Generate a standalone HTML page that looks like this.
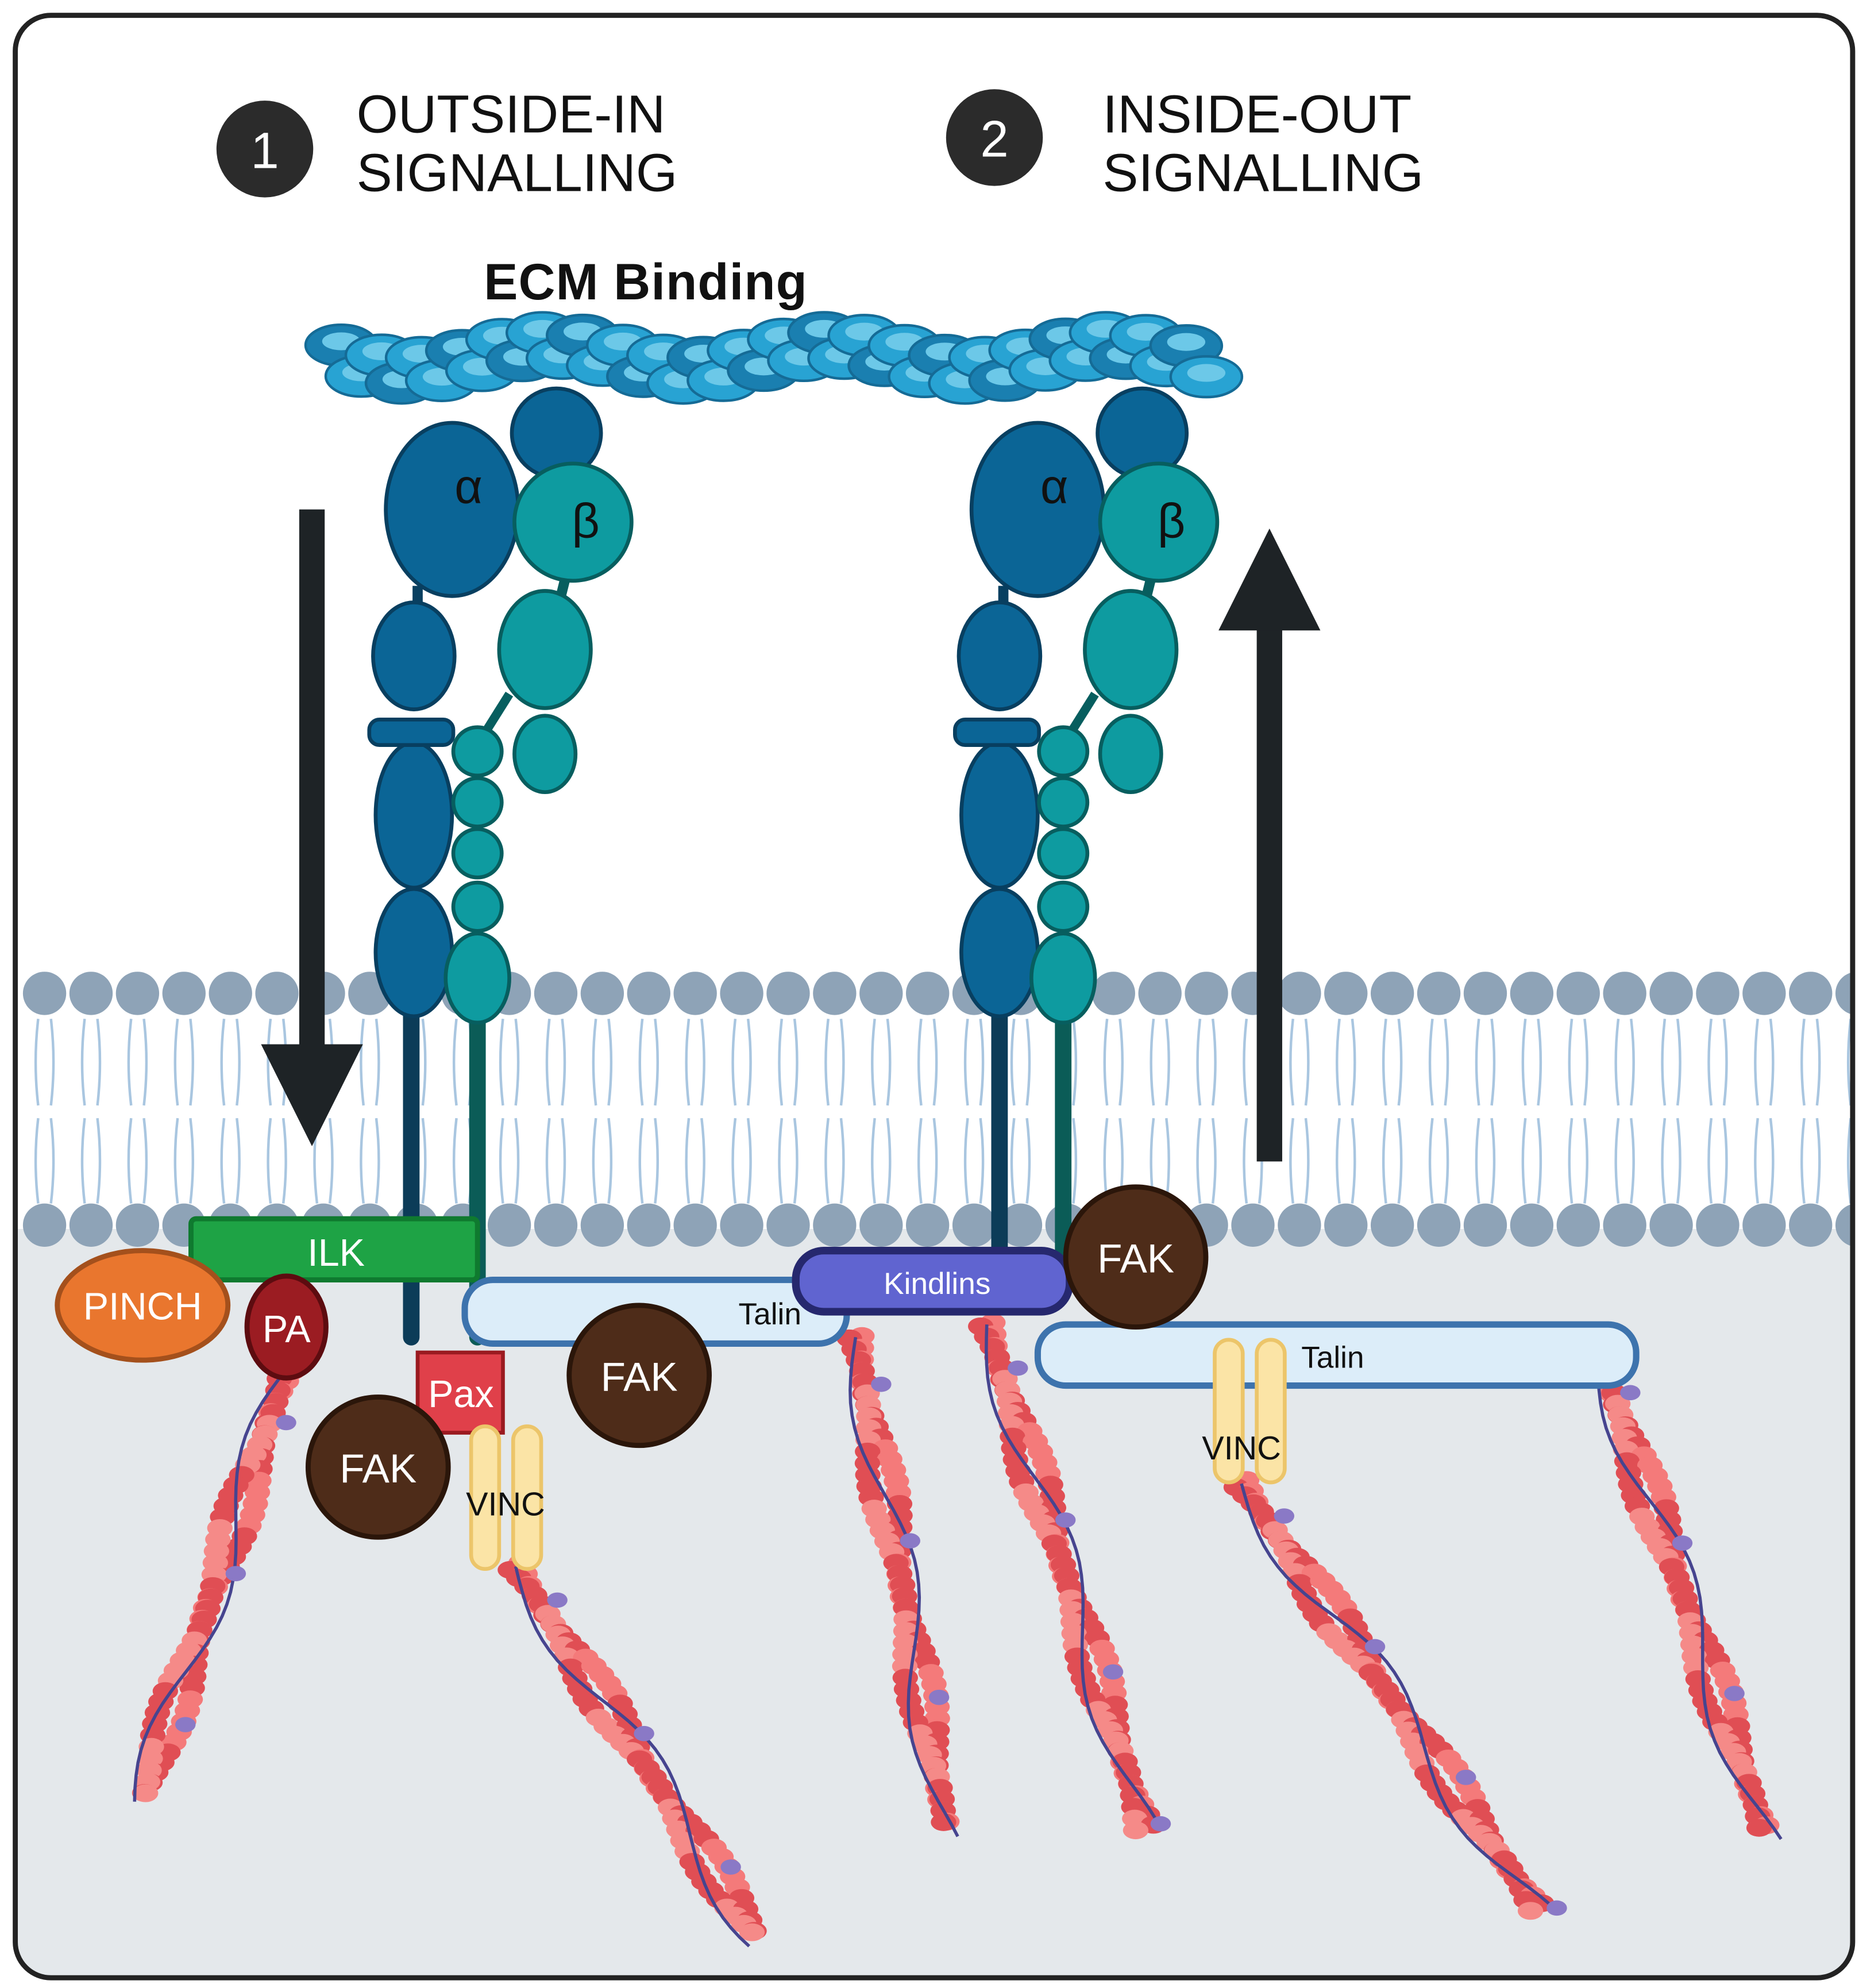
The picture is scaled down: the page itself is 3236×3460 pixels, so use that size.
<!DOCTYPE html>
<html><head><meta charset="utf-8"><style>
html,body{margin:0;padding:0;background:#fff}
svg{display:block}
text{font-family:"Liberation Sans",sans-serif}
</style></head><body>
<svg id="s" width="3236" height="3460" viewBox="0 0 1460 1561" xmlns="http://www.w3.org/2000/svg">
<defs><clipPath id="c"><rect x="12" y="12" width="1443" height="1541" rx="28"/></clipPath></defs>
<g clip-path="url(#c)">
<rect x="0" y="0" width="1460" height="1561" fill="#fff"/>
<rect x="0" y="965" width="1460" height="600" fill="#e4e8eb"/>
<g id="mem"></g>
<g id="act"></g>
</g>
<rect x="12" y="12" width="1443" height="1541" rx="28" fill="none" stroke="#222" stroke-width="4"/>
<circle cx="208" cy="117" r="38" fill="#2b2b2b"/><text x="208" y="132" font-size="40" fill="#fff" text-anchor="middle">1</text>
<text x="280" y="104" font-size="42" fill="#111">OUTSIDE-IN</text><text x="280" y="150" font-size="42" fill="#111">SIGNALLING</text>
<circle cx="781" cy="108" r="38" fill="#2b2b2b"/><text x="781" y="123" font-size="40" fill="#fff" text-anchor="middle">2</text>
<text x="866" y="104" font-size="42" fill="#111">INSIDE-OUT</text><text x="866" y="150" font-size="42" fill="#111">SIGNALLING</text>
<text x="380" y="235" font-size="40" font-weight="bold" fill="#111" letter-spacing="0.5">ECM Binding</text>
<g id="ecm"></g>
<g id="int"></g>
<rect x="235" y="400" width="20" height="430" fill="#1e2326"/><polygon points="205,820 285,820 245,900" fill="#1e2326"/>
<rect x="987" y="490" width="20" height="422" fill="#1e2326"/><polygon points="957,495 1037,495 997,415" fill="#1e2326"/>
<g id="cyto">
<rect x="365" y="1005" width="300" height="50" rx="22" fill="#dcedf9" stroke="#3d73ad" stroke-width="5"/>
<text x="580" y="1040" font-size="24" fill="#111">Talin</text>
<rect x="815" y="1040" width="470" height="48" rx="22" fill="#dcedf9" stroke="#3d73ad" stroke-width="5"/>
<text x="1022" y="1074" font-size="24" fill="#111">Talin</text>
<rect x="150" y="957" width="225" height="48" rx="4" fill="#1ea345" stroke="#0f7a2f" stroke-width="4"/>
<text x="264" y="994" font-size="30" fill="#fff" text-anchor="middle">ILK</text>
<ellipse cx="112" cy="1025" rx="67" ry="43" fill="#e9762e" stroke="#a4501c" stroke-width="4"/>
<text x="112" y="1036" font-size="30" fill="#fff" text-anchor="middle">PINCH</text>
<ellipse cx="225" cy="1042" rx="31" ry="40" fill="#9b1c22" stroke="#5d0c10" stroke-width="4"/>
<text x="225" y="1054" font-size="30" fill="#fff" text-anchor="middle">PA</text>
<rect x="625" y="982" width="215" height="48" rx="22" fill="#6064d0" stroke="#26286e" stroke-width="6"/>
<text x="736" y="1016" font-size="24" fill="#fff" text-anchor="middle">Kindlins</text>
<rect x="328" y="1062" width="67" height="63" fill="#e0404a" stroke="#9a1a20" stroke-width="3"/>
<text x="362" y="1105" font-size="30" fill="#fff" text-anchor="middle">Pax</text>
<circle cx="502" cy="1080" r="55" fill="#4e2c19" stroke="#2b160a" stroke-width="4"/><text x="502" y="1092" font-size="32" fill="#fff" text-anchor="middle">FAK</text>
<circle cx="297" cy="1152" r="55" fill="#4e2c19" stroke="#2b160a" stroke-width="4"/><text x="297" y="1164" font-size="32" fill="#fff" text-anchor="middle">FAK</text>
<circle cx="892" cy="987" r="55" fill="#4e2c19" stroke="#2b160a" stroke-width="4"/><text x="892" y="999" font-size="32" fill="#fff" text-anchor="middle">FAK</text>
<rect x="370" y="1120" width="22" height="112" rx="11" fill="#fbe4a6" stroke="#ecc56a" stroke-width="3"/>
<rect x="403" y="1120" width="22" height="112" rx="11" fill="#fbe4a6" stroke="#ecc56a" stroke-width="3"/>
<text x="397" y="1190" font-size="26" fill="#111" text-anchor="middle">VINC</text>
<rect x="954" y="1052" width="22" height="112" rx="11" fill="#fbe4a6" stroke="#ecc56a" stroke-width="3"/>
<rect x="987" y="1052" width="22" height="112" rx="11" fill="#fbe4a6" stroke="#ecc56a" stroke-width="3"/>
<text x="975" y="1146" font-size="26" fill="#111" text-anchor="middle">VINC</text>
</g>
</svg>
<script>
var NS="http://www.w3.org/2000/svg";
function el(p,t,a){var e=document.createElementNS(NS,t);for(var k in a)e.setAttribute(k,a[k]);document.getElementById(p).appendChild(e);return e;}
for(var x=35;x<1460;x+=36.5){
 [[800,868],[878,945]].forEach(function(r){
  el("mem","path",{d:"M"+(x-5)+" "+r[0]+" q-4 "+((r[1]-r[0])/2)+" 0 "+(r[1]-r[0])+" M"+(x+5)+" "+r[0]+" q4 "+((r[1]-r[0])/2)+" 0 "+(r[1]-r[0]),stroke:"#a9c6e0","stroke-width":2,fill:"none"});
 });
}
for(var x=35;x<1460;x+=36.5){el("mem","circle",{cx:x,cy:780,r:17,fill:"#8ea3b7"});el("mem","circle",{cx:x,cy:962,r:17,fill:"#8ea3b7"});}
for(var i=0;i<44;i++){var x=268+i*15.8,y=280+10*Math.sin(i*0.45)+(i%2?11:-9);
 el("ecm","ellipse",{cx:x,cy:y,rx:28,ry:16,fill:i%3?"#28a3d3":"#1a7fb0",stroke:"#156b96","stroke-width":2});
 el("ecm","ellipse",{cx:x,cy:y-3,rx:15,ry:7,fill:"#6cc8e8"});}
function integ(dx,sa,sb,end){
 var g="int";
 el(g,"line",{x1:sa,y1:780,x2:sa,y2:end,stroke:"#0c3c58","stroke-width":13,"stroke-linecap":"round"});
 el(g,"line",{x1:sb,y1:780,x2:sb,y2:end,stroke:"#0b5c57","stroke-width":13,"stroke-linecap":"round"});
 var A="#0b6596",As="#083f60",B="#0e9ba0",Bs="#075e5f";
 el(g,"circle",{cx:437+dx,cy:340,r:35,fill:A,stroke:As,"stroke-width":3});
 el(g,"ellipse",{cx:355+dx,cy:400,rx:52,ry:68,fill:A,stroke:As,"stroke-width":3});
 el(g,"line",{x1:328+dx,y1:460,x2:328+dx,y2:480,stroke:As,"stroke-width":8});
 el(g,"ellipse",{cx:325+dx,cy:515,rx:32,ry:42,fill:A,stroke:As,"stroke-width":3});
 el(g,"ellipse",{cx:325+dx,cy:640,rx:30,ry:57,fill:A,stroke:As,"stroke-width":3});
 el(g,"rect",{x:290+dx,y:565,width:66,height:20,rx:8,fill:A,stroke:As,"stroke-width":3});
 el(g,"ellipse",{cx:325+dx,cy:748,rx:30,ry:50,fill:A,stroke:As,"stroke-width":3});
 el(g,"line",{x1:445+dx,y1:450,x2:440+dx,y2:470,stroke:Bs,"stroke-width":8});
 el(g,"ellipse",{cx:428+dx,cy:510,rx:36,ry:46,fill:B,stroke:Bs,"stroke-width":3});
 el(g,"line",{x1:400+dx,y1:545,x2:378+dx,y2:580,stroke:Bs,"stroke-width":7});
 el(g,"ellipse",{cx:428+dx,cy:592,rx:24,ry:30,fill:B,stroke:Bs,"stroke-width":3});
 [590,630,670,712].forEach(function(y){el(g,"circle",{cx:375+dx,cy:y,r:19,fill:B,stroke:Bs,"stroke-width":3});});
 el(g,"ellipse",{cx:375+dx,cy:768,rx:25,ry:35,fill:B,stroke:Bs,"stroke-width":3});
 el(g,"circle",{cx:450+dx,cy:410,r:46,fill:B,stroke:Bs,"stroke-width":3});
 var t1=el(g,"text",{x:368+dx,y:395,"font-size":38,fill:"#111","text-anchor":"middle"});t1.textContent="\u03b1";
 var t2=el(g,"text",{x:460+dx,y:422,"font-size":38,fill:"#111","text-anchor":"middle"});t2.textContent="\u03b2";
}
integ(0,323,375,1050);
integ(460,785,835,985);
function actin(x1,y1,x2,y2){
 var dx=x2-x1,dy=y2-y1,L=Math.sqrt(dx*dx+dy*dy),ux=dx/L,uy=dy/L,nx=-uy,ny=ux;
 var n=Math.floor(L/9);
 for(var i=0;i<n;i++){var t=i*9,o=6*Math.sin(i*0.35);
  el("act","ellipse",{cx:x1+ux*t+nx*(o-5),cy:y1+uy*t+ny*(o-5),rx:10,ry:7,fill:(i%10<5)?"#f47a7a":"#e04e54"});
  el("act","ellipse",{cx:x1+ux*t+nx*(-o+5),cy:y1+uy*t+ny*(-o+5),rx:10,ry:7,fill:(i%10<5)?"#e04e54":"#f58a88"});}
 var d="M"+x1+" "+y1;
 for(var t=0;t<=L;t+=10){var o=14*Math.sin(t/40);d+=" L"+(x1+ux*t+nx*o).toFixed(1)+" "+(y1+uy*t+ny*o).toFixed(1);}
 el("act","path",{d:d,stroke:"#46448f","stroke-width":2.5,fill:"none"});
 for(var t=40;t<L;t+=125){el("act","ellipse",{cx:x1+ux*t+nx*-13,cy:y1+uy*t+ny*-13,rx:8,ry:6,fill:"#8a79c6"});}
}
actin(225,1075,110,1420);
actin(405,1230,600,1530);
actin(672,1050,745,1445);
actin(775,1040,902,1445);
actin(975,1165,1215,1510);
actin(1255,1060,1390,1450);
</script>
</body></html>
